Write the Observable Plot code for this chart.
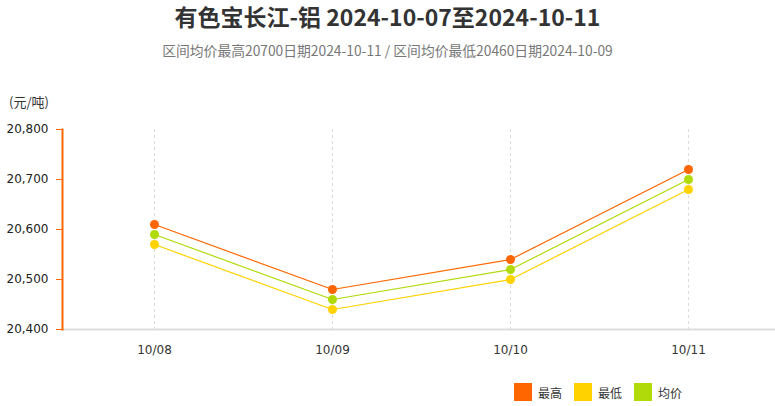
<!DOCTYPE html>
<html><head><meta charset="utf-8">
<script src="https://cdn.jsdelivr.net/npm/d3@7"></script>
<script src="https://cdn.jsdelivr.net/npm/@observablehq/plot@0.6"></script>
<style>
body{margin:0;background:#fff;font-family:"Noto Sans CJK SC","Noto Sans",sans-serif;}
#wrap{position:relative;width:775px;height:406px;overflow:hidden;}
#title{position:absolute;left:0;top:1px;width:775px;text-align:center;font-size:23px;font-weight:bold;color:#333;line-height:30px;}
#sub{position:absolute;left:0;top:40px;width:775px;text-align:center;font-size:13.8px;color:#777;line-height:20px;}
#unit{position:absolute;left:9px;top:92px;font-size:13px;color:#333;line-height:20px;}
#chart{position:absolute;left:0;top:90px;}
#legend{position:absolute;left:514px;top:383px;display:flex;gap:0;font-size:12px;color:#333;}
.item{display:flex;align-items:center;margin-right:12px;}
.sw{width:18px;height:18px;margin-right:6px;}
</style></head>
<body><div id="wrap">
<div id="title">有色宝长江-铝 2024-10-07至2024-10-11</div>
<div id="sub">区间均价最高20700日期2024-10-11 / 区间均价最低20460日期2024-10-09</div>
<div id="unit">(元/吨)</div>
<div id="chart"></div>
<div id="legend"></div>
</div>
<script>
const dates = ["10/08","10/09","10/10","10/11"];
const highValues = [20610, 20480, 20540, 20720];
const lowValues = [20570, 20440, 20500, 20680];
const avgValues = [20590, 20460, 20520, 20700];
const seriesNames = ["最高","最低","均价"];
const seriesColors = ["#ff6600","#ffd200","#b0da0a"];
const yTicks = [20400, 20500, 20600, 20700, 20800];

const seriesValues = [highValues, lowValues, avgValues];
const data = [];
seriesNames.forEach((name, i) => dates.forEach((d, j) => data.push({date: d, value: seriesValues[i][j], series: name})));
const order = ["最低","均价","最高"];

const plot = Plot.plot({
  width: 775,
  height: 275,
  marginTop: 39,
  marginBottom: 36,
  marginLeft: 62,
  marginRight: 0,
  style: {fontFamily: "'DejaVu Sans', Verdana, sans-serif", fontSize: "12px", color: "#333"},
  x: {type: "point", domain: dates, padding: 0.5, insetLeft: 2, insetRight: -3, label: null},
  y: {domain: [20400, 20800], label: null},
  color: {domain: seriesNames, range: seriesColors},
  marks: [
    Plot.ruleX(dates, {x: d => d, stroke: "#dcdcdc", strokeDasharray: "3,3", strokeWidth: 1}),
    Plot.ruleY([20400], {stroke: "#ddd", strokeWidth: 2}),
    Plot.axisX({tickSize: 0, tickPadding: 16, fill: "#333", fontSize: 12}),
    Plot.axisY({ticks: yTicks, tickFormat: d3.format(","), stroke: "#ff6600", tickSize: 6, tickPadding: 8, fill: "#222", fontSize: 12}),
    Plot.frame({anchor: "left", stroke: "#ff6600", strokeWidth: 2}),
    ...order.map(name => Plot.line(data.filter(d => d.series === name), {x: "date", y: "value", stroke: seriesColors[seriesNames.indexOf(name)], strokeWidth: 1.2})),
    ...order.map(name => Plot.dot(data.filter(d => d.series === name), {x: "date", y: "value", fill: seriesColors[seriesNames.indexOf(name)], r: 4.5, stroke: "none"}))
  ]
});
document.getElementById("chart").appendChild(plot);

const leg = document.getElementById("legend");
seriesNames.forEach((n, i) => {
  const it = document.createElement("div"); it.className = "item";
  const sw = document.createElement("div"); sw.className = "sw"; sw.style.background = seriesColors[i];
  const t = document.createElement("span"); t.textContent = n;
  it.appendChild(sw); it.appendChild(t); leg.appendChild(it);
});
</script>
</body></html>
